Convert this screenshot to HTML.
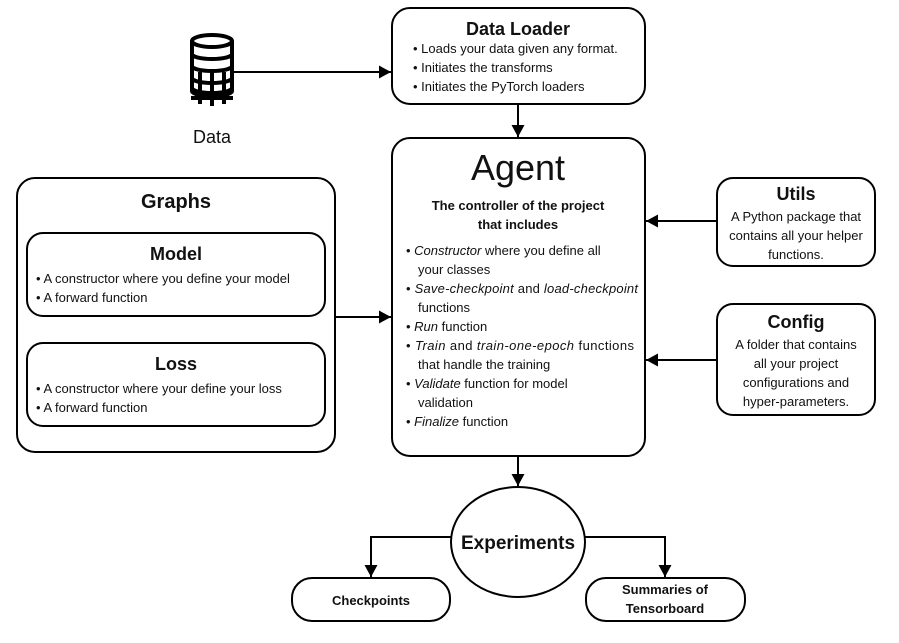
<!DOCTYPE html>
<html><head><meta charset="utf-8"><style>
body{margin:0;background:#fff}
svg{display:block;font-family:"Liberation Sans",sans-serif}
.b{fill:#fff;stroke:#000;stroke-width:2}
text{fill:#111}
.t{font-weight:bold;text-anchor:middle}
.s{font-size:13px}
.c{text-anchor:middle;font-size:13px}
</style></head><body>
<svg width="899" height="643" viewBox="0 0 899 643">
<defs><marker id="a" markerWidth="13" markerHeight="13" refX="12" refY="6.5" orient="auto" markerUnits="userSpaceOnUse"><path d="M0,0 L12,6.5 L0,13z" fill="#000"/></marker></defs>
<g stroke="#000" stroke-width="2" fill="none">
<line x1="232" y1="72" x2="391" y2="72" marker-end="url(#a)"/>
<line x1="518" y1="104" x2="518" y2="137" marker-end="url(#a)"/>
<line x1="335" y1="317" x2="391" y2="317" marker-end="url(#a)"/>
<line x1="717" y1="221" x2="646" y2="221" marker-end="url(#a)"/>
<line x1="717" y1="360" x2="646" y2="360" marker-end="url(#a)"/>
<line x1="518" y1="456" x2="518" y2="486" marker-end="url(#a)"/>
<polyline points="452,537 371,537 371,577" marker-end="url(#a)"/>
<polyline points="584,537 665,537 665,577" marker-end="url(#a)"/>
</g>
<g stroke="#000" stroke-width="4" fill="#fff">
<path d="M192,41 v50 a20,5 0 0 0 40,0 v-50"/>
<ellipse cx="212" cy="41" rx="20" ry="6"/>
<path d="M192,54 a20,5 0 0 0 40,0 M192,66 a20,5 0 0 0 40,0 M192,78 a20,5 0 0 0 40,0 M192,88 a20,5 0 0 0 40,0" fill="none"/>
<path d="M200,72 v32 M212,72 v34 M224,72 v32 M191,98 h42" fill="none"/>
</g>
<text x="212" y="143" style="font-size:18px" text-anchor="middle">Data</text>
<rect class="b" x="392" y="8" width="253" height="96" rx="18"/>
<text class="t" x="518" y="35" style="font-size:18px">Data Loader</text>
<g class="s"><text x="413" y="53">• Loads your data given any format.</text><text x="413" y="72">• Initiates the transforms</text><text x="413" y="91">• Initiates the PyTorch loaders</text></g>
<rect class="b" x="392" y="138" width="253" height="318" rx="18"/>
<text x="518" y="180" text-anchor="middle" style="font-size:36px">Agent</text>
<text class="t" x="518" y="210" style="font-size:13px">The controller of the project</text>
<text class="t" x="518" y="229" style="font-size:13px">that includes</text>
<g class="s">
<text x="406" y="255">• <tspan font-style="italic">Constructor</tspan> where you define all</text>
<text x="418" y="274">your classes</text>
<text x="406" y="293" textLength="232">• <tspan font-style="italic">Save-checkpoint</tspan> and <tspan font-style="italic">load-checkpoint</tspan></text>
<text x="418" y="312">functions</text>
<text x="406" y="331">• <tspan font-style="italic">Run</tspan> function</text>
<text x="406" y="350" textLength="228">• <tspan font-style="italic">Train</tspan> and <tspan font-style="italic">train-one-epoch</tspan> functions</text>
<text x="418" y="369">that handle the training</text>
<text x="406" y="388">• <tspan font-style="italic">Validate</tspan> function for model</text>
<text x="418" y="407">validation</text>
<text x="406" y="426">• <tspan font-style="italic">Finalize</tspan> function</text>
</g>
<rect class="b" x="17" y="178" width="318" height="274" rx="18"/>
<text class="t" x="176" y="208" style="font-size:20px">Graphs</text>
<rect class="b" x="27" y="233" width="298" height="83" rx="16"/>
<text class="t" x="176" y="260" style="font-size:18px">Model</text>
<g class="s"><text x="36" y="283">• A constructor where you define your model</text><text x="36" y="302">• A forward function</text></g>
<rect class="b" x="27" y="343" width="298" height="83" rx="16"/>
<text class="t" x="176" y="370" style="font-size:18px">Loss</text>
<g class="s"><text x="36" y="393">• A constructor where your define your loss</text><text x="36" y="412">• A forward function</text></g>
<rect class="b" x="717" y="178" width="158" height="88" rx="16"/>
<text class="t" x="796" y="200" style="font-size:18px">Utils</text>
<g class="c"><text x="796" y="221">A Python package that</text><text x="796" y="240">contains all your helper</text><text x="796" y="259">functions.</text></g>
<rect class="b" x="717" y="304" width="158" height="111" rx="16"/>
<text class="t" x="796" y="328" style="font-size:18px">Config</text>
<g class="c"><text x="796" y="349">A folder that contains</text><text x="796" y="368">all your project</text><text x="796" y="387">configurations and</text><text x="796" y="406">hyper-parameters.</text></g>
<ellipse class="b" cx="518" cy="542" rx="67" ry="55"/>
<text class="t" x="518" y="549" style="font-size:19px">Experiments</text>
<rect class="b" x="292" y="578" width="158" height="43" rx="20"/>
<text class="t" x="371" y="605" style="font-size:13px">Checkpoints</text>
<rect class="b" x="586" y="578" width="159" height="43" rx="20"/>
<text class="t" x="665" y="594" style="font-size:13px">Summaries of</text>
<text class="t" x="665" y="613" style="font-size:13px">Tensorboard</text>
</svg>
</body></html>
